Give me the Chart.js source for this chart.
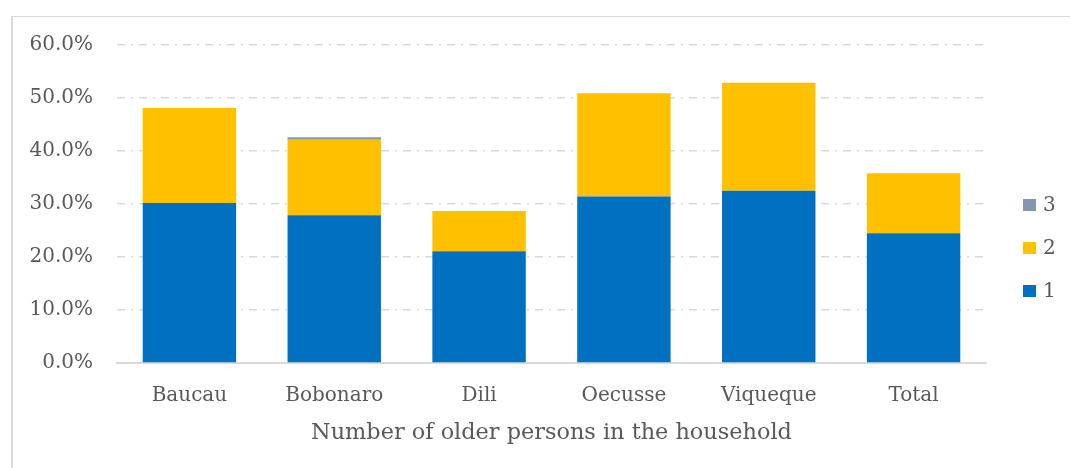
<!DOCTYPE html>
<html>
<head>
<meta charset="utf-8">
<script src="https://cdn.jsdelivr.net/npm/chart.js@4/dist/chart.umd.min.js"></script>
<style>
	html, body { margin: 0; padding: 0; background: #fff; overflow: hidden; }
	canvas { display: block; }
</style>
</head>
<body>
<canvas id="chart" width="1070" height="468"></canvas>
<script>
const categories = ['Baucau', 'Bobonaro', 'Dili', 'Oecusse', 'Viqueque', 'Total'];
const seriesNames = ['1', '2', '3'];
const oneOlder = [30.2, 27.9, 21.1, 31.4, 32.5, 24.5];
const twoOlder = [17.9, 14.2, 7.6, 19.5, 20.4, 11.3];
const threeOlder = [0, 0.5, 0, 0, 0, 0];
const yTicks = [0, 10, 20, 30, 40, 50, 60];

const colors = ['#0070c0', '#ffc000', '#8497b0'];
const textColor = '#595959';
const fontFamily = '"DejaVu Serif", "Liberation Serif", serif';

// outer chart frame: only left and top edges are visible in the picture
const frame = {
	id: 'frame',
	beforeDraw(chart) {
		const ctx = chart.ctx;
		ctx.save();
		ctx.fillStyle = '#fff';
		ctx.fillRect(0, 0, chart.width, chart.height);
		ctx.fillStyle = '#dadada';
		ctx.fillRect(11, 16, 2, chart.height - 16);
		ctx.fillRect(11, 16, chart.width - 11, 1);
		ctx.restore();
	}
};

// legend drawn on the right, items stacked 3 / 2 / 1
const sideLegend = {
	id: 'sideLegend',
	afterDraw(chart) {
		const ctx = chart.ctx;
		const sets = chart.data.datasets.slice().reverse();
		ctx.save();
		ctx.font = '20px ' + fontFamily;
		ctx.textBaseline = 'middle';
		sets.forEach((ds, i) => {
			let y = 205 + i * 43;
			ctx.fillStyle = ds.backgroundColor;
			ctx.fillRect(1023, y - 6, 13, 12);
			ctx.fillStyle = textColor;
			ctx.fillText(ds.label, 1043, y + 1);
		});
		ctx.restore();
	}
};

const dataSeries = [oneOlder, twoOlder, threeOlder];

new Chart(document.getElementById('chart').getContext('2d'), {
	type: 'bar',
	data: {
		labels: categories,
		datasets: seriesNames.map((name, i) => ({
			label: name,
			data: dataSeries[i],
			backgroundColor: colors[i],
			borderWidth: 0,
			categoryPercentage: 1,
			barPercentage: 0.645,
		})),
	},
	options: {
		responsive: false,
		animation: false,
		layout: { padding: { top: 45, left: 0, right: 84, bottom: 0 } },
		plugins: {
			legend: { display: false },
			tooltip: { enabled: false },
		},
		scales: {
			x: {
				stacked: true,
				grid: { display: false },
				border: { display: true, color: '#d9d9d9', width: 2 },
				ticks: { color: textColor, font: { family: fontFamily, size: 20 }, padding: 13 },
				title: {
					display: true,
					text: 'Number of older persons in the household',
					color: textColor,
					font: { family: fontFamily, size: 22.4 },
					padding: { top: 0, bottom: 21 },
				},
				afterFit(s) { s.height = 105; },
			},
			y: {
				stacked: true,
				min: 0,
				max: 60,
				afterBuildTicks(s) { s.ticks = yTicks.map(v => ({ value: v })); },
				grid: {
					color: '#d9d9d9',
					lineWidth: 1.5,
					drawTicks: false,
				},
				border: { display: false, dash: [8, 6, 2, 6] },
				ticks: {
					color: textColor,
					font: { family: fontFamily, size: 20 },
					padding: 24,
					callback: v => v.toFixed(1) + '%',
				},
				afterFit(s) { s.width = 117; },
			},
		},
	},
	plugins: [frame, sideLegend],
});
</script>
</body>
</html>
